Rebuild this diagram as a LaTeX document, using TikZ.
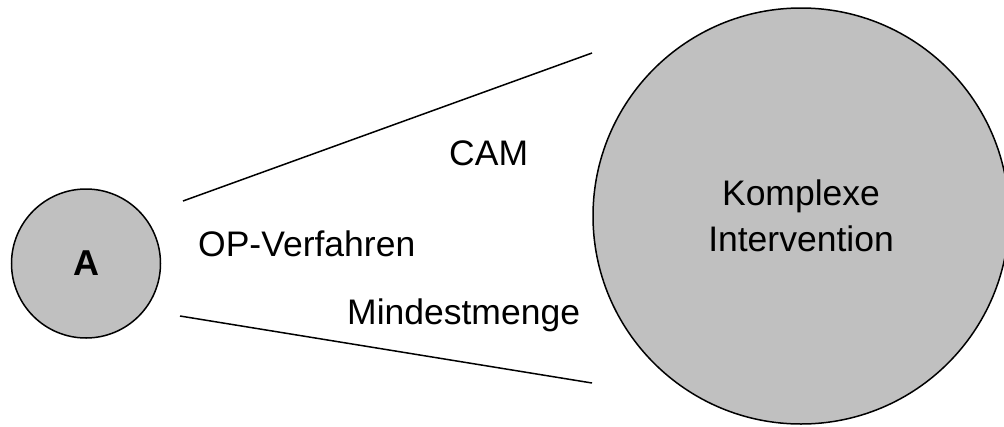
\documentclass[tikz,border=0pt]{standalone}
\usepackage{fontspec}
\setmainfont{Liberation Sans}
\definecolor{circfill}{RGB}{192,192,192}
\begin{document}
\begin{tikzpicture}[x=1pt,y=-1pt,
  blob/.style={circle,draw=black,line width=1.5pt,fill=circfill,inner sep=0pt},
  lbl/.style={font=\fontsize{35.5}{46}\selectfont,inner sep=0pt,anchor=base west},
  link/.style={line width=1.5pt}]
\useasboundingbox (0,0) rectangle (1004,426);
\node[blob,minimum size=149pt,font=\fontsize{36}{40}\selectfont\bfseries] (a) at (86,263.5) {A};
\node[blob,minimum size=416pt,align=center,font=\fontsize{35.5}{46}\selectfont] (k) at (801,216) {Komplexe\\Intervention};
\coordinate (u1) at (183,201);
\coordinate (u2) at (592,53);
\coordinate (l1) at (180,316);
\coordinate (l2) at (592,383);
\draw[link] (u1) -- (u2);
\draw[link] (l1) -- (l2);
\node[lbl] (cam) at (449,165) {CAM};
\node[lbl] (op) at (198,256) {OP-Verfahren};
\node[lbl] (mm) at (347,324) {Mindestmenge};
\end{tikzpicture}
\end{document}
